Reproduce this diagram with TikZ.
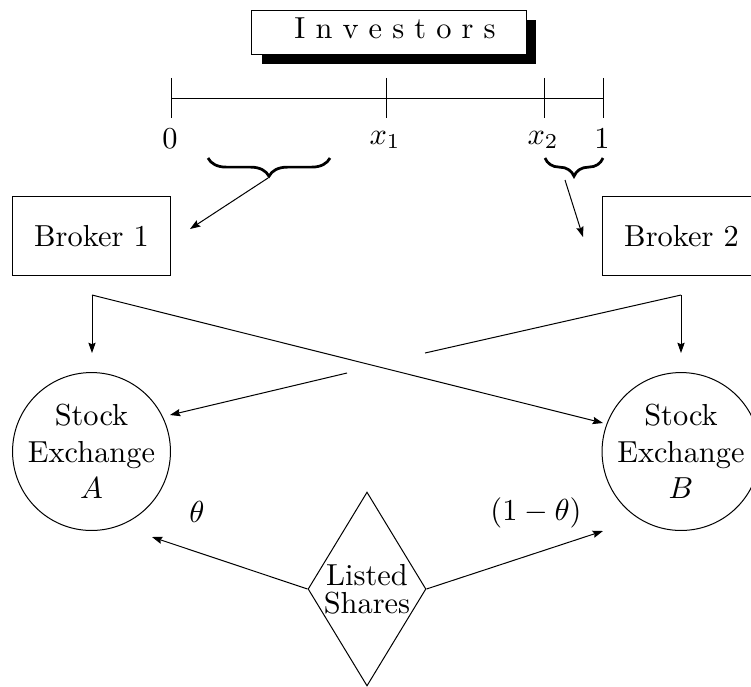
\documentclass[tikz,border=0pt]{standalone}
\usetikzlibrary{arrows.meta,shapes.geometric,shadows,decorations.pathreplacing}
\begin{document}
\begin{tikzpicture}[x=0.329pt,y=-0.329pt, line width=0.33pt,
  arr/.style={-{Stealth[length=3.4pt,width=2.4pt,inset=0.5pt]}},
  boxn/.style={draw, rectangle, minimum width=52.3pt, minimum height=26.3pt, inner sep=0pt},
  exch/.style={draw, circle, minimum size=51.65pt, inner sep=0pt, align=center},
  brc/.style={decorate, decoration={brace, amplitude=6pt, mirror}, line width=0.9pt},
  lbl/.style={inner sep=0pt, anchor=base}]
\useasboundingbox (0,0) rectangle (751,686);

% Investors box with shadow
\node[draw, fill=white, minimum width=90.15pt, minimum height=14.48pt, inner sep=0pt,
      text depth=2.6pt,
      drop shadow={shadow xshift=3.3pt, shadow yshift=-3.3pt, fill=black, opacity=1}]
  (inv) at (389,32) {\hspace*{4pt}I n v e s t o r s};

% number line
\coordinate (n0) at (171,98);
\coordinate (n1) at (386,98);
\coordinate (n2) at (544,98);
\coordinate (n3) at (603,98);
\draw (n0) -- (n3);
\foreach \c in {n0,n1,n2,n3} \draw ([yshift=6.6pt]\c) -- ([yshift=-6.6pt]\c);
\node[lbl] (l0) at (170,148) {$0$};
\node[lbl] (l1) at (385,144) {$x_1$};
\node[lbl] (l2) at (543,144) {$x_2$};
\node[lbl] (l3) at (602,148) {$1$};

% braces
\draw[brc] (208,158) -- (330,158);
\draw[brc] (545,158) -- (603,158);
\coordinate (bt1) at (268,178);
\coordinate (bt2) at (565,180);
\coordinate (bh1) at (190,229);
\coordinate (bh2) at (583,237);
\draw[arr] (bt1) -- (bh1);
\draw[arr] (bt2) -- (bh2);

% brokers
\node[boxn] (b1) at (91.5,236) {Broker 1};
\node[boxn] (b2) at (681.5,236) {Broker 2};

% connectors from brokers
\coordinate (p1) at (92,295);
\coordinate (p2) at (681,295);
\coordinate (q1) at (92,353);
\coordinate (q2) at (681,353);
\coordinate (r2) at (603,423);
\coordinate (g1) at (425,353);
\coordinate (g2) at (347,373);
\coordinate (r1) at (170,415);
\draw[arr] (p1) -- (q1);
\draw[arr] (p2) -- (q2);
\draw[arr] (p1) -- (r2);
\draw (p2) -- (g1);
\draw[arr] (g2) -- (r1);

% stock exchanges
\node[exch] (sa) at (91.5,451.5) {Stock\\Exchange\\$A$};
\node[exch] (sb) at (681,451.5) {Stock\\Exchange\\$B$};

% listed shares
\node[draw, diamond, minimum width=38.8pt, minimum height=63.8pt, inner sep=0pt] (ls) at (367,589) {};
\node[align=center, inner sep=0pt] (lt) at (367,589) {Listed\\[-2.7pt]Shares};
\coordinate (ta) at (152,537);
\coordinate (tb) at (603,531);
\draw[arr] (ls.west) -- (ta);
\draw[arr] (ls.east) -- (tb);
\node (th) at (197,512) {$\theta$};
\node (th2) at (536,513) {$(1-\theta)$};
\end{tikzpicture}
\end{document}
